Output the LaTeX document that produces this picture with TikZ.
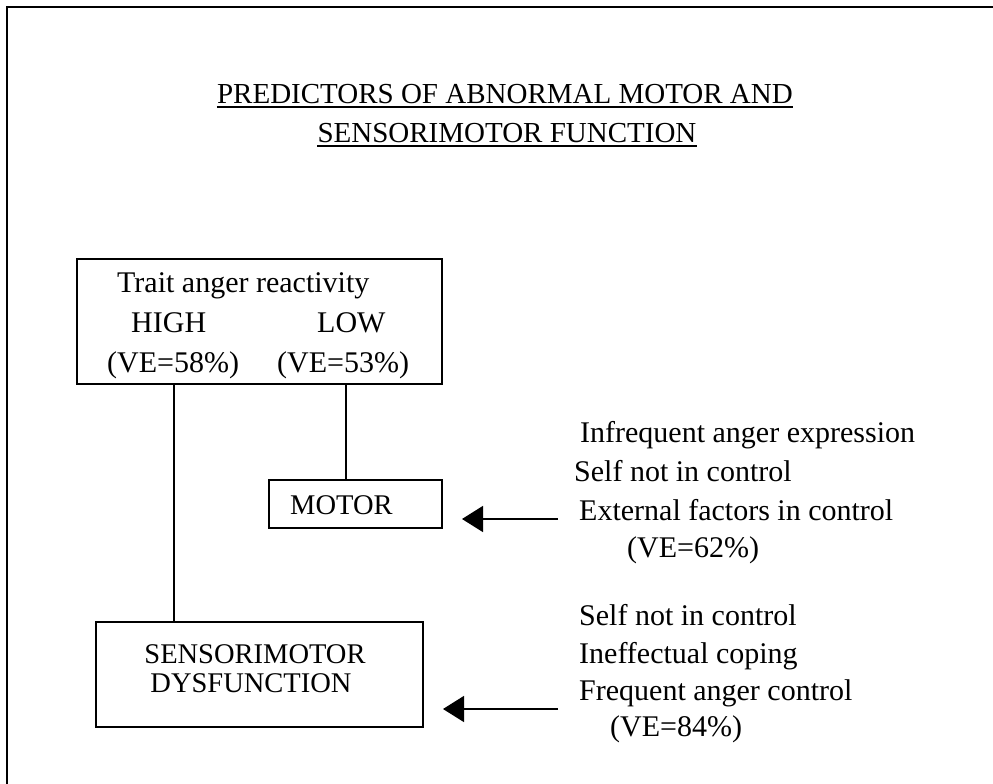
\documentclass[tikz,border=0pt]{standalone}
\usepackage{fontspec}
\setmainfont{Liberation Serif}
\usetikzlibrary{arrows.meta,calc}
\begin{document}
\begin{tikzpicture}[x=1pt,y=-1pt,
  box/.style={draw,line width=1.4pt,inner sep=0pt},
  txt/.style={inner sep=0pt,anchor=base west,font=\fontsize{30}{36}\selectfont},
  ttl/.style={inner sep=0pt,anchor=base,font=\fontsize{29}{34}\selectfont},
  conn/.style={line width=1.5pt},
  arr/.style={line width=1.5pt,-{Triangle[length=21pt,width=26pt]}},
  uline/.style={line width=1.5pt}
]
\useasboundingbox (0,0) rectangle (993,784);
% frame
\coordinate (fA) at (7,784);
\coordinate (fB) at (7,7);
\coordinate (fC) at (993,7);
\draw[line width=2.5pt] (fA) -- (fB) -- (fC);
% title
\node[ttl] (t1) at (505,103) {PREDICTORS OF ABNORMAL MOTOR AND};
\node[ttl] (t2) at (507,142) {SENSORIMOTOR FUNCTION};
\draw[uline] ($(t1.base west)+(0,4)$) -- ($(t1.base east)+(0,4)$);
\draw[uline] ($(t2.base west)+(0,4)$) -- ($(t2.base east)+(0,4)$);
% boxes
\node[box,minimum width=365pt,minimum height=125pt] (trait) at (259.5,321.5) {};
\node[box,minimum width=173pt,minimum height=48pt] (motor) at (355.5,504) {};
\node[box,minimum width=327pt,minimum height=105pt] (sm) at (259.5,674.5) {};
% trait box text
\node[txt] (tr) at (117,292) {Trait anger reactivity};
\node[txt] (hi) at (131,332) {HIGH};
\node[txt] (lo) at (317,332) {LOW};
\node[txt] (ve1) at (107,372) {(VE=58\%)};
\node[txt] (ve2) at (277,372) {(VE=53\%)};
% motor text
\node[txt,font=\fontsize{28.5}{34}\selectfont] (mt) at (290,514) {MOTOR};
% sensorimotor text
\node[ttl,font=\fontsize{28.5}{34}\selectfont] (sm1) at (255,663) {SENSORIMOTOR};
\node[ttl,font=\fontsize{28.5}{34}\selectfont] (sm2) at (251,692) {DYSFUNCTION};
% connectors
\coordinate (hx) at (174,0);
\coordinate (lx) at (346,0);
\draw[conn] (trait.south -| hx) -- (sm.north -| hx);
\draw[conn] (trait.south -| lx) -- (motor.north -| lx);
% right group 1
\node[txt] (r11) at (580,442) {Infrequent anger expression};
\node[txt] (r12) at (574,481) {Self not in control};
\node[txt] (r13) at (579,520) {External factors in control};
\node[txt] (r14) at (627,557) {(VE=62\%)};
\coordinate (a1s) at (558,519);
\coordinate (a1e) at (462,519);
\draw[arr] (a1s) -- (a1e);
% right group 2
\node[txt] (r21) at (579,625) {Self not in control};
\node[txt] (r22) at (579,663) {Ineffectual coping};
\node[txt] (r23) at (579,700) {Frequent anger control};
\node[txt] (r24) at (610,736) {(VE=84\%)};
\coordinate (a2s) at (558,709);
\coordinate (a2e) at (443,709);
\draw[arr] (a2s) -- (a2e);
\end{tikzpicture}
\end{document}
